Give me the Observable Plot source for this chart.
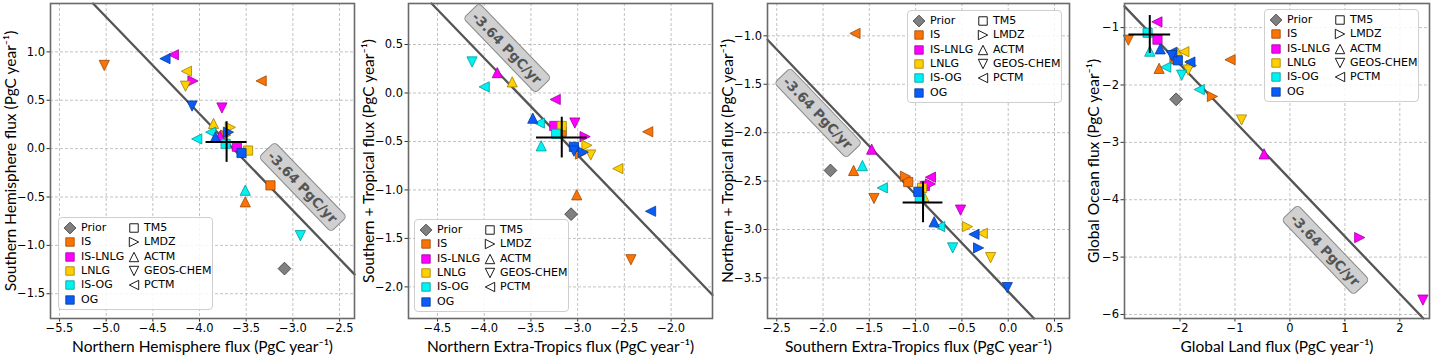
<!DOCTYPE html>
<html><head><meta charset="utf-8">
<script src="https://cdn.jsdelivr.net/npm/d3@7"></script>
<script src="https://cdn.jsdelivr.net/npm/@observablehq/plot@0.6"></script>
<style>
body{margin:0;background:#fff;}
#wrap{position:relative;width:1432px;height:358px;overflow:hidden;font-family:"DejaVu Sans",sans-serif;}
.panel{position:absolute;top:0;}
.legend{position:absolute;background:rgba(255,255,255,0.85);border:1px solid #cfcfcf;border-radius:4px;box-sizing:border-box;font:11px "DejaVu Sans",sans-serif;color:#000;}
.legend .item{position:absolute;height:14px;line-height:14px;white-space:nowrap;}
.legend svg{position:absolute;overflow:visible;}
</style></head><body><div id="wrap"></div>
<script>
// ---------------- data ----------------
const experiments = ["IS", "IS-LNLG", "LNLG", "IS-OG", "OG"];
const experimentColors = ["#f97306", "#ff00ff", "#ffcf00", "#00f2f2", "#0a5cf7"];
const models = ["TM5", "LMDZ", "ACTM", "GEOS-CHEM", "PCTM"];
const priorLabel = "Prior";
const priorColor = "#808080";
const budget = -3.64;
const budgetText = "-3.64 PgC/yr";

// Panel 1: Northern vs Southern Hemisphere
const p1XLabel = "Northern Hemisphere flux (PgC year⁻¹)";
const p1YLabel = "Southern Hemisphere flux (PgC year⁻¹)";
const p1XTicks = [-5.5, -5.0, -4.5, -4.0, -3.5, -3.0, -2.5];
const p1YTicks = [1.0, 0.5, 0.0, -0.5, -1.0, -1.5];
const p1Points = [
  ["IS","TM5",-3.24,-0.38],["IS","LMDZ",-3.72,0.14],["IS","ACTM",-3.51,-0.55],["IS","GEOS-CHEM",-5.02,0.86],["IS","PCTM",-3.34,0.70],
  ["IS-LNLG","TM5",-3.60,0.02],["IS-LNLG","LMDZ",-4.07,0.70],["IS-LNLG","ACTM",-3.78,0.13],["IS-LNLG","GEOS-CHEM",-3.76,0.42],["IS-LNLG","PCTM",-4.28,0.97],
  ["LNLG","TM5",-3.48,-0.02],["LNLG","LMDZ",-3.67,0.22],["LNLG","ACTM",-3.85,0.26],["LNLG","GEOS-CHEM",-4.15,0.645],["LNLG","PCTM",-4.14,0.80],
  ["IS-OG","TM5",-3.72,0.05],["IS-OG","PCTM",-3.88,0.17],["IS-OG","ACTM",-3.51,-0.43],["IS-OG","GEOS-CHEM",-2.92,-0.90],["IS-OG","PCTM",-4.03,0.10],
  ["OG","TM5",-3.55,-0.045],["OG","LMDZ",-3.69,0.17],["OG","ACTM",-3.83,0.12],["OG","GEOS-CHEM",-4.08,0.44],["OG","PCTM",-4.37,0.93]
];
const p1Prior = [-3.09, -1.24];
const p1Obs = [-3.71, 0.22, 0.068, 0.21]; // x, x error, y, y error

// Panel 2: Northern Extra-Tropics vs Southern + Tropical
const p2XLabel = "Northern Extra-Tropics flux (PgC year⁻¹)";
const p2YLabel = "Southern + Tropical flux (PgC year⁻¹)";
const p2XTicks = [-4.5, -4.0, -3.5, -3.0, -2.5, -2.0];
const p2YTicks = [0.5, 0.0, -0.5, -1.0, -1.5, -2.0];
const p2Points = [
  ["IS","TM5",-3.17,-0.40],["IS","LMDZ",-2.97,-0.63],["IS","ACTM",-3.01,-1.05],["IS","GEOS-CHEM",-2.43,-1.72],["IS","PCTM",-2.25,-0.40],
  ["IS-LNLG","TM5",-3.25,-0.34],["IS-LNLG","LMDZ",-2.92,-0.45],["IS-LNLG","ACTM",-3.86,0.21],["IS-LNLG","GEOS-CHEM",-3.03,-0.31],["IS-LNLG","PCTM",-3.24,-0.067],
  ["LNLG","TM5",-3.17,-0.34],["LNLG","LMDZ",-2.90,-0.54],["LNLG","ACTM",-3.70,0.115],["LNLG","GEOS-CHEM",-2.86,-0.64],["LNLG","PCTM",-2.57,-0.78],
  ["IS-OG","TM5",-3.23,-0.42],["IS-OG","PCTM",-3.41,-0.31],["IS-OG","ACTM",-3.39,-0.545],["IS-OG","GEOS-CHEM",-4.13,0.32],["IS-OG","PCTM",-4.00,0.063],
  ["OG","TM5",-3.04,-0.556],["OG","LMDZ",-2.94,-0.61],["OG","ACTM",-3.48,-0.26],["OG","GEOS-CHEM",-3.04,-0.60],["OG","PCTM",-2.22,-1.22]
];
const p2Prior = [-3.07, -1.25];
const p2Obs = [-3.17, 0.27, -0.46, 0.21];

// Panel 3: Southern Extra-Tropics vs Northern + Tropical
const p3XLabel = "Southern Extra-Tropics flux (PgC year⁻¹)";
const p3YLabel = "Northern + Tropical flux (PgC year⁻¹)";
const p3XTicks = [-2.5, -2.0, -1.5, -1.0, -0.5, 0.0, 0.5];
const p3YTicks = [-1.0, -1.5, -2.0, -2.5, -3.0, -3.5];
const p3Points = [
  ["IS","TM5",-1.08,-2.51],["IS","LMDZ",-1.11,-2.45],["IS","ACTM",-1.67,-2.39],["IS","GEOS-CHEM",-1.45,-2.68],["IS","PCTM",-1.655,-0.975],
  ["IS-LNLG","TM5",-0.90,-2.55],["IS-LNLG","LMDZ",-0.84,-2.53],["IS-LNLG","ACTM",-1.475,-2.17],["IS-LNLG","GEOS-CHEM",-0.515,-2.80],["IS-LNLG","PCTM",-0.84,-2.46],
  ["LNLG","TM5",-0.93,-2.57],["LNLG","LMDZ",-0.44,-2.97],["LNLG","ACTM",-0.91,-2.66],["LNLG","GEOS-CHEM",-0.19,-3.29],["LNLG","PCTM",-0.28,-3.04],
  ["IS-OG","TM5",-0.955,-2.68],["IS-OG","ACTM",-1.575,-2.34],["IS-OG","PCTM",-1.36,-2.57],["IS-OG","PCTM",-0.74,-2.97],["IS-OG","GEOS-CHEM",-0.60,-3.19],
  ["OG","TM5",-0.97,-2.61],["OG","LMDZ",-0.32,-3.19],["OG","ACTM",-0.80,-2.92],["OG","GEOS-CHEM",-0.01,-3.60],["OG","PCTM",-0.37,-3.05]
];
const p3Prior = [-1.92, -2.39];
const p3Obs = [-0.92, 0.215, -2.72, 0.21];

// Panel 4: Global Land vs Global Ocean
const p4XLabel = "Global Land flux (PgC year⁻¹)";
const p4YLabel = "Global Ocean flux (PgC year⁻¹)";
const p4XTicks = [-2, -1, 0, 1, 2];
const p4YTicks = [-1, -2, -3, -4, -5, -6];
const p4Points = [
  ["IS","TM5",-2.10,-1.55],["IS","LMDZ",-1.41,-2.20],["IS","ACTM",-2.38,-1.71],["IS","GEOS-CHEM",-2.94,-1.22],["IS","PCTM",-1.09,-1.56],
  ["IS-LNLG","TM5",-2.41,-1.21],["IS-LNLG","LMDZ",1.27,-4.66],["IS-LNLG","ACTM",-0.47,-3.20],["IS-LNLG","GEOS-CHEM",2.42,-5.75],["IS-LNLG","PCTM",-2.42,-0.90],
  ["LNLG","ACTM",-2.04,-1.44],["LNLG","PCTM",-1.93,-1.42],["LNLG","LMDZ",-1.79,-1.66],["LNLG","GEOS-CHEM",-1.85,-1.74],["LNLG","GEOS-CHEM",-0.88,-2.61],
  ["IS-OG","TM5",-2.59,-1.09],["IS-OG","ACTM",-2.55,-1.41],["IS-OG","PCTM",-2.26,-1.69],["IS-OG","GEOS-CHEM",-1.97,-1.83],["IS-OG","PCTM",-1.65,-2.08],
  ["OG","TM5",-2.04,-1.57],["OG","ACTM",-2.36,-1.37],["OG","PCTM",-2.15,-1.43],["OG","GEOS-CHEM",-2.15,-1.49],["OG","PCTM",-1.82,-1.60]
];
const p4Prior = [-2.07, -2.25];
const p4Obs = [-2.55, 0.38, -1.12, 0.33];

// ---------------- symbols ----------------
function polySymbol(pts) {
  return {draw(ctx, size) {
    const r = Math.sqrt(size / Math.PI);
    ctx.moveTo(pts[0][0] * r, pts[0][1] * r);
    for (let i = 1; i < pts.length; ++i) ctx.lineTo(pts[i][0] * r, pts[i][1] * r);
    ctx.closePath();
  }};
}
const SYMBOLS = {
  "TM5": polySymbol([[-0.9,-0.9],[0.9,-0.9],[0.9,0.9],[-0.9,0.9]]),
  "LMDZ": polySymbol([[1,0],[-1,-1],[-1,1]]),
  "ACTM": polySymbol([[0,-1],[1,1],[-1,1]]),
  "GEOS-CHEM": polySymbol([[0,1],[1,-1],[-1,-1]]),
  "PCTM": polySymbol([[-1,0],[1,-1],[1,1]]),
  "Prior": polySymbol([[0,-1.25],[1.25,0],[0,1.25],[-1.25,0]])
};
const colorOf = (e) => experimentColors[experiments.indexOf(e)];
const edgeOf = (c) => d3.color(c).darker(1.3).formatHex();

// ---------------- layout ----------------
const PLOT_H = 315, MT = 3, MB = 40, ML = 50, MR = 3;
const panels = [
  {plotLeft: 50, plotW: 304, xDomain: [-5.596, -2.34], yDomain: [-1.756, 1.50], xTicks: p1XTicks, yTicks: p1YTicks, fmt: ".1f",
   xLabel: p1XLabel, yLabel: p1YLabel, yLabelDx: -39, pts: p1Points, prior: p1Prior, obs: p1Obs, annot: [-2.9, -0.40], legend: [58, 217]},
  {plotLeft: 408.3, plotW: 304, xDomain: [-4.81, -1.557], yDomain: [-2.326, 0.923], xTicks: p2XTicks, yTicks: p2YTicks, fmt: ".1f",
   xLabel: p2XLabel, yLabel: p2YLabel, yLabelDx: -39, pts: p2Points, prior: p2Prior, obs: p2Obs, annot: [-3.76, 0.46], legend: [414, 219]},
  {plotLeft: 766.7, plotW: 302, xDomain: [-2.6, 0.662], yDomain: [-3.919, -0.666], xTicks: p3XTicks, yTicks: p3YTicks, fmt: ".1f",
   xLabel: p3XLabel, yLabel: p3YLabel, yLabelDx: -39, pts: p3Points, prior: p3Prior, obs: p3Obs, annot: [-2.06, -1.80], legend: [907, 10]},
  {plotLeft: 1124.3, plotW: 305, xDomain: [-3.01, 2.54], yDomain: [-6.07, -0.58], xTicks: p4XTicks, yTicks: p4YTicks, fmt: "d",
   xLabel: p4XLabel, yLabel: p4YLabel, yLabelDx: -30, pts: p4Points, prior: p4Prior, obs: p4Obs, annot: [0.636, -4.88], legend: [1264, 9]}
];

const wrap = document.getElementById("wrap");
const labelFont = "Lato, 'Open Sans', sans-serif";
const MR_SIZE = 5.1;

for (const P of panels) {
  const rows = P.pts.map(([e, m, x, y]) => ({e, m, x, y, fill: colorOf(e), stroke: edgeOf(colorOf(e))}));
  const [x0, x1] = P.xDomain, [y0, y1] = P.yDomain;
  const lx0 = Math.max(x0, budget - y1), lx1 = Math.min(x1, budget - y0);
  const budgetLine = [{x: lx0, y: budget - lx0}, {x: lx1, y: budget - lx1}];
  const kx = P.plotW / (x1 - x0), ky = PLOT_H / (y1 - y0);
  const angle = Math.atan(ky / kx) * 180 / Math.PI;
  const obs = {x: P.obs[0], xe: P.obs[1], y: P.obs[2], ye: P.obs[3]};
  const fmt = d3.format(P.fmt);
  const dash = {stroke: "#b3b3b3", strokeOpacity: 1, strokeDasharray: "3,2", strokeWidth: 0.8};
  const marks = [
    Plot.gridX(P.xTicks, dash),
    Plot.gridY(P.yTicks, dash),
    Plot.axisX(P.xTicks, {tickSize: 3.5, tickPadding: 2, tickFormat: fmt, label: null, stroke: "#333", fontSize: 11.5}),
    Plot.axisY(P.yTicks, {tickSize: 3.5, tickPadding: 2, tickFormat: fmt, label: null, stroke: "#333", fontSize: 11.5}),
    Plot.line(budgetLine, {x: "x", y: "y", stroke: "#555", strokeWidth: 2.3}),
    Plot.dot([{x: P.prior[0], y: P.prior[1]}], {x: "x", y: "y", symbol: SYMBOLS.Prior, r: MR_SIZE, fill: priorColor, stroke: "#333", strokeWidth: 0.8}),
  ];
  for (const r of rows) {
    marks.push(Plot.dot([r], {x: "x", y: "y", symbol: SYMBOLS[r.m], r: MR_SIZE, fill: "fill", stroke: "stroke", strokeWidth: 0.8}));
  }
  marks.push(
    Plot.ruleY([obs], {y: "y", x1: d => d.x - d.xe, x2: d => d.x + d.xe, stroke: "#000", strokeWidth: 2}),
    Plot.ruleX([obs], {x: "x", y1: d => d.y - d.ye, y2: d => d.y + d.ye, stroke: "#000", strokeWidth: 2}),
    Plot.text([{x: P.annot[0], y: P.annot[1], t: budgetText}], {x: "x", y: "y", text: "t", rotate: angle, fontSize: 13.5, fontWeight: "bold", fill: "#555", fontFamily: "'DejaVu Sans', sans-serif"}),
    Plot.frame({stroke: "#6a6a6a", strokeWidth: 1.6}),
    Plot.text([P.xLabel], {frameAnchor: "bottom", lineAnchor: "middle", textAnchor: "middle", dy: 28.7, text: d => d, fontSize: 15.5, fontFamily: labelFont, fill: "#000"}),
    Plot.text([P.yLabel], {frameAnchor: "left", lineAnchor: "middle", textAnchor: "middle", dx: P.yLabelDx, rotate: -90, text: d => d, fontSize: 15.5, fontFamily: labelFont, fill: "#000"})
  );
  const svg = Plot.plot({
    width: ML + P.plotW + MR, height: MT + PLOT_H + MB,
    marginLeft: ML, marginRight: MR, marginTop: MT, marginBottom: MB,
    x: {domain: P.xDomain}, y: {domain: P.yDomain},
    color: {type: "identity"},
    style: {fontFamily: "'DejaVu Sans', sans-serif", fontSize: "11.5px", background: "transparent", overflow: "visible", color: "#000"},
    marks
  });
  svg.classList.add("panel");
  svg.style.left = (P.plotLeft - ML) + "px";
  svg.style.position = "absolute";
  wrap.appendChild(svg);

  // rounded grey box behind the budget label (same transform as the text)
  Array.from(svg.querySelectorAll("text")).filter(t => t.textContent === budgetText).forEach(t => {
    const b = t.getBBox();
    const rect = document.createElementNS("http://www.w3.org/2000/svg", "rect");
    rect.setAttribute("x", b.x - 5); rect.setAttribute("y", b.y - 3);
    rect.setAttribute("width", b.width + 10); rect.setAttribute("height", b.height + 6);
    rect.setAttribute("rx", 4);
    rect.setAttribute("fill", "#d0d0d0"); rect.setAttribute("stroke", "#8a8a8a"); rect.setAttribute("stroke-width", 1);
    if (t.getAttribute("transform")) rect.setAttribute("transform", t.getAttribute("transform"));
    t.parentNode.insertBefore(rect, t);
  });

  // legend
  const L = document.createElement("div");
  L.className = "legend";
  L.style.left = P.legend[0] + "px"; L.style.top = P.legend[1] + "px";
  L.style.width = "155px"; L.style.height = "93px";
  const col1 = [{label: priorLabel, sym: "Prior", fill: priorColor, stroke: "#333"}]
    .concat(experiments.map(e => ({label: e, sym: "TM5", fill: colorOf(e), stroke: edgeOf(colorOf(e))})));
  const col2 = models.map(m => ({label: m, sym: m, fill: "none", stroke: "#000"}));
  const addItem = (it, i, mx, tx) => {
    const cy = 10 + i * 14.3;
    const s = document.createElementNS("http://www.w3.org/2000/svg", "svg");
    s.setAttribute("width", 1); s.setAttribute("height", 1);
    s.style.left = mx + "px"; s.style.top = cy + "px";
    const p = document.createElementNS("http://www.w3.org/2000/svg", "path");
    const path = d3.path(); SYMBOLS[it.sym].draw(path, Math.PI * 4.7 * 4.7);
    p.setAttribute("d", path.toString()); p.setAttribute("fill", it.fill); p.setAttribute("stroke", it.stroke);
    p.setAttribute("stroke-width", it.fill === "none" ? 0.9 : 0.8);
    s.appendChild(p); L.appendChild(s);
    const d = document.createElement("div"); d.className = "item";
    d.style.left = tx + "px"; d.style.top = (cy - 7) + "px"; d.textContent = it.label;
    L.appendChild(d);
  };
  col1.forEach((it, i) => addItem(it, i, 10.5, 22));
  col2.forEach((it, i) => addItem(it, i, 75, 85));
  wrap.appendChild(L);
}
</script></body></html>
